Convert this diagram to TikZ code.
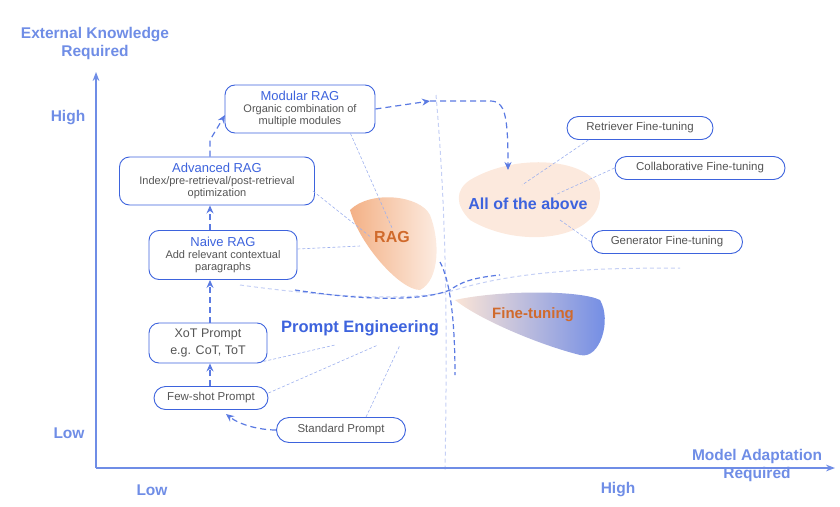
\documentclass[tikz,border=0pt]{standalone}
\usepackage{fontspec}
\setmainfont{Liberation Sans}
\usetikzlibrary{arrows.meta,shapes.misc}
\definecolor{bl}{HTML}{3D63DD}
\definecolor{ax}{HTML}{6F8DE6}
\definecolor{gr}{HTML}{555555}
\definecolor{og}{HTML}{D06A2C}
\definecolor{pk}{HTML}{F2A878}
\begin{document}
\begin{tikzpicture}[x=1pt,y=-1pt,
 box/.style={draw=bl,line width=0.9pt,rounded corners=10pt,fill=white,align=center,text=gr,font=\fontsize{11}{12}\selectfont,inner sep=2pt},
 sbox/.style={draw=bl,line width=0.9pt,rounded rectangle,fill=white,text=gr,font=\fontsize{11.5}{12.5}\selectfont,minimum height=23pt,inner xsep=2pt},
 dar/.style={dashed,dash pattern=on 6pt off 4pt,bl!85,line width=1.2pt,-{Stealth[length=8pt,width=7pt]}},
 thin/.style={dashed,dash pattern=on 3pt off 2pt,bl!50,line width=0.6pt},
 axl/.style={text=ax,font=\fontsize{15.5}{18}\selectfont\bfseries,align=center}]
\useasboundingbox (0,0) rectangle (840,506);
% blobs
\fill[pk!25] (470,180) .. controls (520,150) and (600,160) .. (600,195) .. controls (600,240) and (520,250) .. (470,220) .. controls (455,205) and (455,190) .. (470,180);
\shade[left color=pk!90, right color=pk!20] (350,210) .. controls (370,190) and (420,195) .. (430,215) .. controls (440,240) and (440,280) .. (420,290) .. controls (400,290) and (360,245) .. (350,210);
\shade[left color=pk!30, right color=bl!75] (455,300) .. controls (500,290) and (580,290) .. (600,300) .. controls (612,320) and (600,360) .. (580,355) .. controls (540,345) and (480,320) .. (455,300);
% boundary lines
\draw[dashed,dash pattern=on 4pt off 3pt,bl!30,line width=1pt] (436,95) .. controls (445,200) and (448,300) .. (445,470);
\draw[dashed,dash pattern=on 4pt off 3pt,bl!30,line width=1pt] (240,285) .. controls (350,300) and (420,300) .. (455,290) .. controls (520,270) and (600,268) .. (680,268);
\draw[dashed,dash pattern=on 5pt off 3pt,bl!85,line width=1.2pt] (295,290) .. controls (360,300) and (420,302) .. (450,290) .. controls (460,283) and (470,278) .. (500,275);
\draw[dashed,dash pattern=on 5pt off 3pt,bl!85,line width=1.2pt] (440,262) .. controls (450,280) and (455,320) .. (455,375);
% axes
\draw[ax,line width=1.6pt,-{Stealth[length=9pt]}] (96,468) -- (96,72);
\draw[ax,line width=1.6pt,-{Stealth[length=9pt]}] (96,468) -- (835,468);
\node[axl] (yl) at (95,43) {External Knowledge\\Required};
\node[axl] (xl) at (757,465) {Model Adaptation\\Required};
\node[axl] (hy) at (68,118) {High};
\node[axl] (ly) at (69,433) {Low};
\node[axl] (lx) at (152,490) {Low};
\node[axl] (hx) at (618,490) {High};
% nodes
\node[box,minimum width=150pt,minimum height=48pt] (mod) at (300,109) {{\color{bl}\fontsize{13}{15}\selectfont Modular RAG}\\Organic combination of\\multiple modules};
\node[box,minimum width=195pt,minimum height=48pt] (adv) at (217,181) {{\color{bl}\fontsize{13}{15}\selectfont Advanced RAG}\\Index/pre-retrieval/post-retrieval\\optimization};
\node[box,minimum width=148pt,minimum height=49pt] (nai) at (223,255) {{\color{bl}\fontsize{13}{15}\selectfont Naive RAG}\\Add relevant contextual\\paragraphs};
\node[box,minimum width=118pt,minimum height=40pt,font=\fontsize{12.5}{17}\selectfont] (xot) at (208,343) {XoT Prompt\\e.g. CoT, ToT};
\node[sbox,minimum height=23pt,minimum width=118pt] (few) at (211,398) {Few-shot Prompt};
\node[sbox,minimum height=25pt,minimum width=133pt] (std) at (341,430) {Standard Prompt};
\node[sbox,minimum width=150pt] (ret) at (640,128) {Retriever Fine-tuning};
\node[sbox,minimum width=174pt] (col) at (700,168) {Collaborative Fine-tuning};
\node[sbox,minimum width=155pt] (gen) at (667,242) {Generator Fine-tuning};
\node[text=og,font=\fontsize{16}{18}\selectfont\bfseries] (rag) at (392,237) {RAG};
\node[text=bl,font=\fontsize{16}{18}\selectfont\bfseries] (all) at (528,204) {All of the above};
\node[text=og,font=\fontsize{15}{17}\selectfont\bfseries] (ft) at (533,315) {Fine-tuning};
\node[text=bl,font=\fontsize{16.5}{18}\selectfont\bfseries] (pe) at (360,328) {Prompt Engineering};
\coordinate (xc) at (210,0);
\coordinate (mid) at (430,101);
% thin leader lines
\draw[thin] (mod.south east) ++(-25,0) -- (rag.north);
\draw[thin] (adv.east) ++(-2,10) -- (rag.west);
\draw[thin] (nai.east) ++(0,-6) -- (360,246);
\draw[thin] (xot.south east) ++(-4,-2) -- (335,345);
\draw[thin] (few.east) ++(0,-5) -- (378,345);
\draw[thin] (std.north) ++(25,0) -- (400,345);
\draw[thin] (ret.south west) ++(10,0) -- (522,185);
\draw[thin] (col.west) -- (555,195);
\draw[thin] (gen.west) -- (560,220);
% arrows
\draw[dar] (std.west) .. controls (260,430) and (240,425) .. (226,414);
\draw[dar] (few.north -| xc) -- (xot.south -| xc);
\draw[dar] (xot.north -| xc) -- (nai.south -| xc);
\draw[dar] (nai.north -| xc) -- (adv.south -| xc);
\draw[dar] (adv.north -| xc) -- (210,140) -- (225,115);
\draw[dar] (mod.east) -- (mid);
\draw[dar] (mid) -- (490,101) .. controls (505,101) and (508,115) .. (508,170);
\end{tikzpicture}
\end{document}
